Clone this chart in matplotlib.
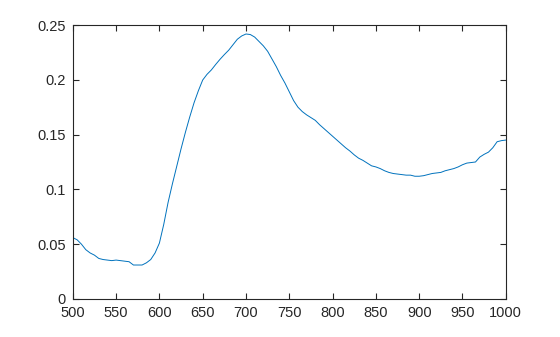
import matplotlib
matplotlib.use("Agg")
import matplotlib.pyplot as plt

wavelength = list(range(500, 1001, 5))
absorb = [0.056, 0.054, 0.050, 0.045, 0.042, 0.040, 0.037, 0.036, 0.0355, 0.035,
          0.0355, 0.035, 0.0345, 0.034, 0.031, 0.031, 0.031, 0.033, 0.036, 0.042,
          0.051, 0.068, 0.088, 0.105, 0.121, 0.137, 0.152, 0.166, 0.179, 0.190,
          0.1998, 0.205, 0.209, 0.214, 0.2187, 0.223, 0.227, 0.232, 0.237, 0.240,
          0.2418, 0.2413, 0.239, 0.235, 0.231, 0.226, 0.219, 0.212, 0.204, 0.197,
          0.189, 0.181, 0.175, 0.171, 0.168, 0.1655, 0.163, 0.159, 0.1555, 0.152,
          0.1485, 0.145, 0.1415, 0.138, 0.135, 0.1315, 0.1285, 0.1265, 0.124, 0.1215,
          0.1205, 0.119, 0.117, 0.1155, 0.1145, 0.114, 0.1135, 0.113, 0.113, 0.112,
          0.112, 0.1125, 0.1135, 0.1145, 0.115, 0.1155, 0.117, 0.118, 0.119, 0.1205,
          0.1225, 0.124, 0.1245, 0.125, 0.1295, 0.132, 0.134, 0.138, 0.1435, 0.1445,
          0.145]

xticks = [500, 550, 600, 650, 700, 750, 800, 850, 900, 950, 1000]
yticks = [0, 0.05, 0.1, 0.15, 0.2, 0.25]
ylabels = ["0", "0.05", "0.1", "0.15", "0.2", "0.25"]

plt.rcParams['font.family'] = ['Liberation Sans', 'DejaVu Sans']
axcol = '#262626'

fig = plt.figure(figsize=(5.6, 3.37), dpi=100)
ax = fig.add_axes([0.13, 0.1128, 0.7732, 0.813])
ax.plot(wavelength, absorb, color='#0072BD', linewidth=0.7)

ax.set_xlim(500, 1000)
ax.set_ylim(0, 0.25)
ax.set_xticks(xticks)
ax.set_yticks(yticks)
ax.set_yticklabels(ylabels)
ax.tick_params(direction='in', length=4, width=0.8, colors=axcol, labelsize=10.5,
               top=True, right=True)
ax.tick_params(axis='x', pad=5)
ax.tick_params(axis='y', pad=5)
for s in ax.spines.values():
    s.set_color(axcol)
    s.set_linewidth(0.8)

fig.savefig("out.png", dpi=100)
